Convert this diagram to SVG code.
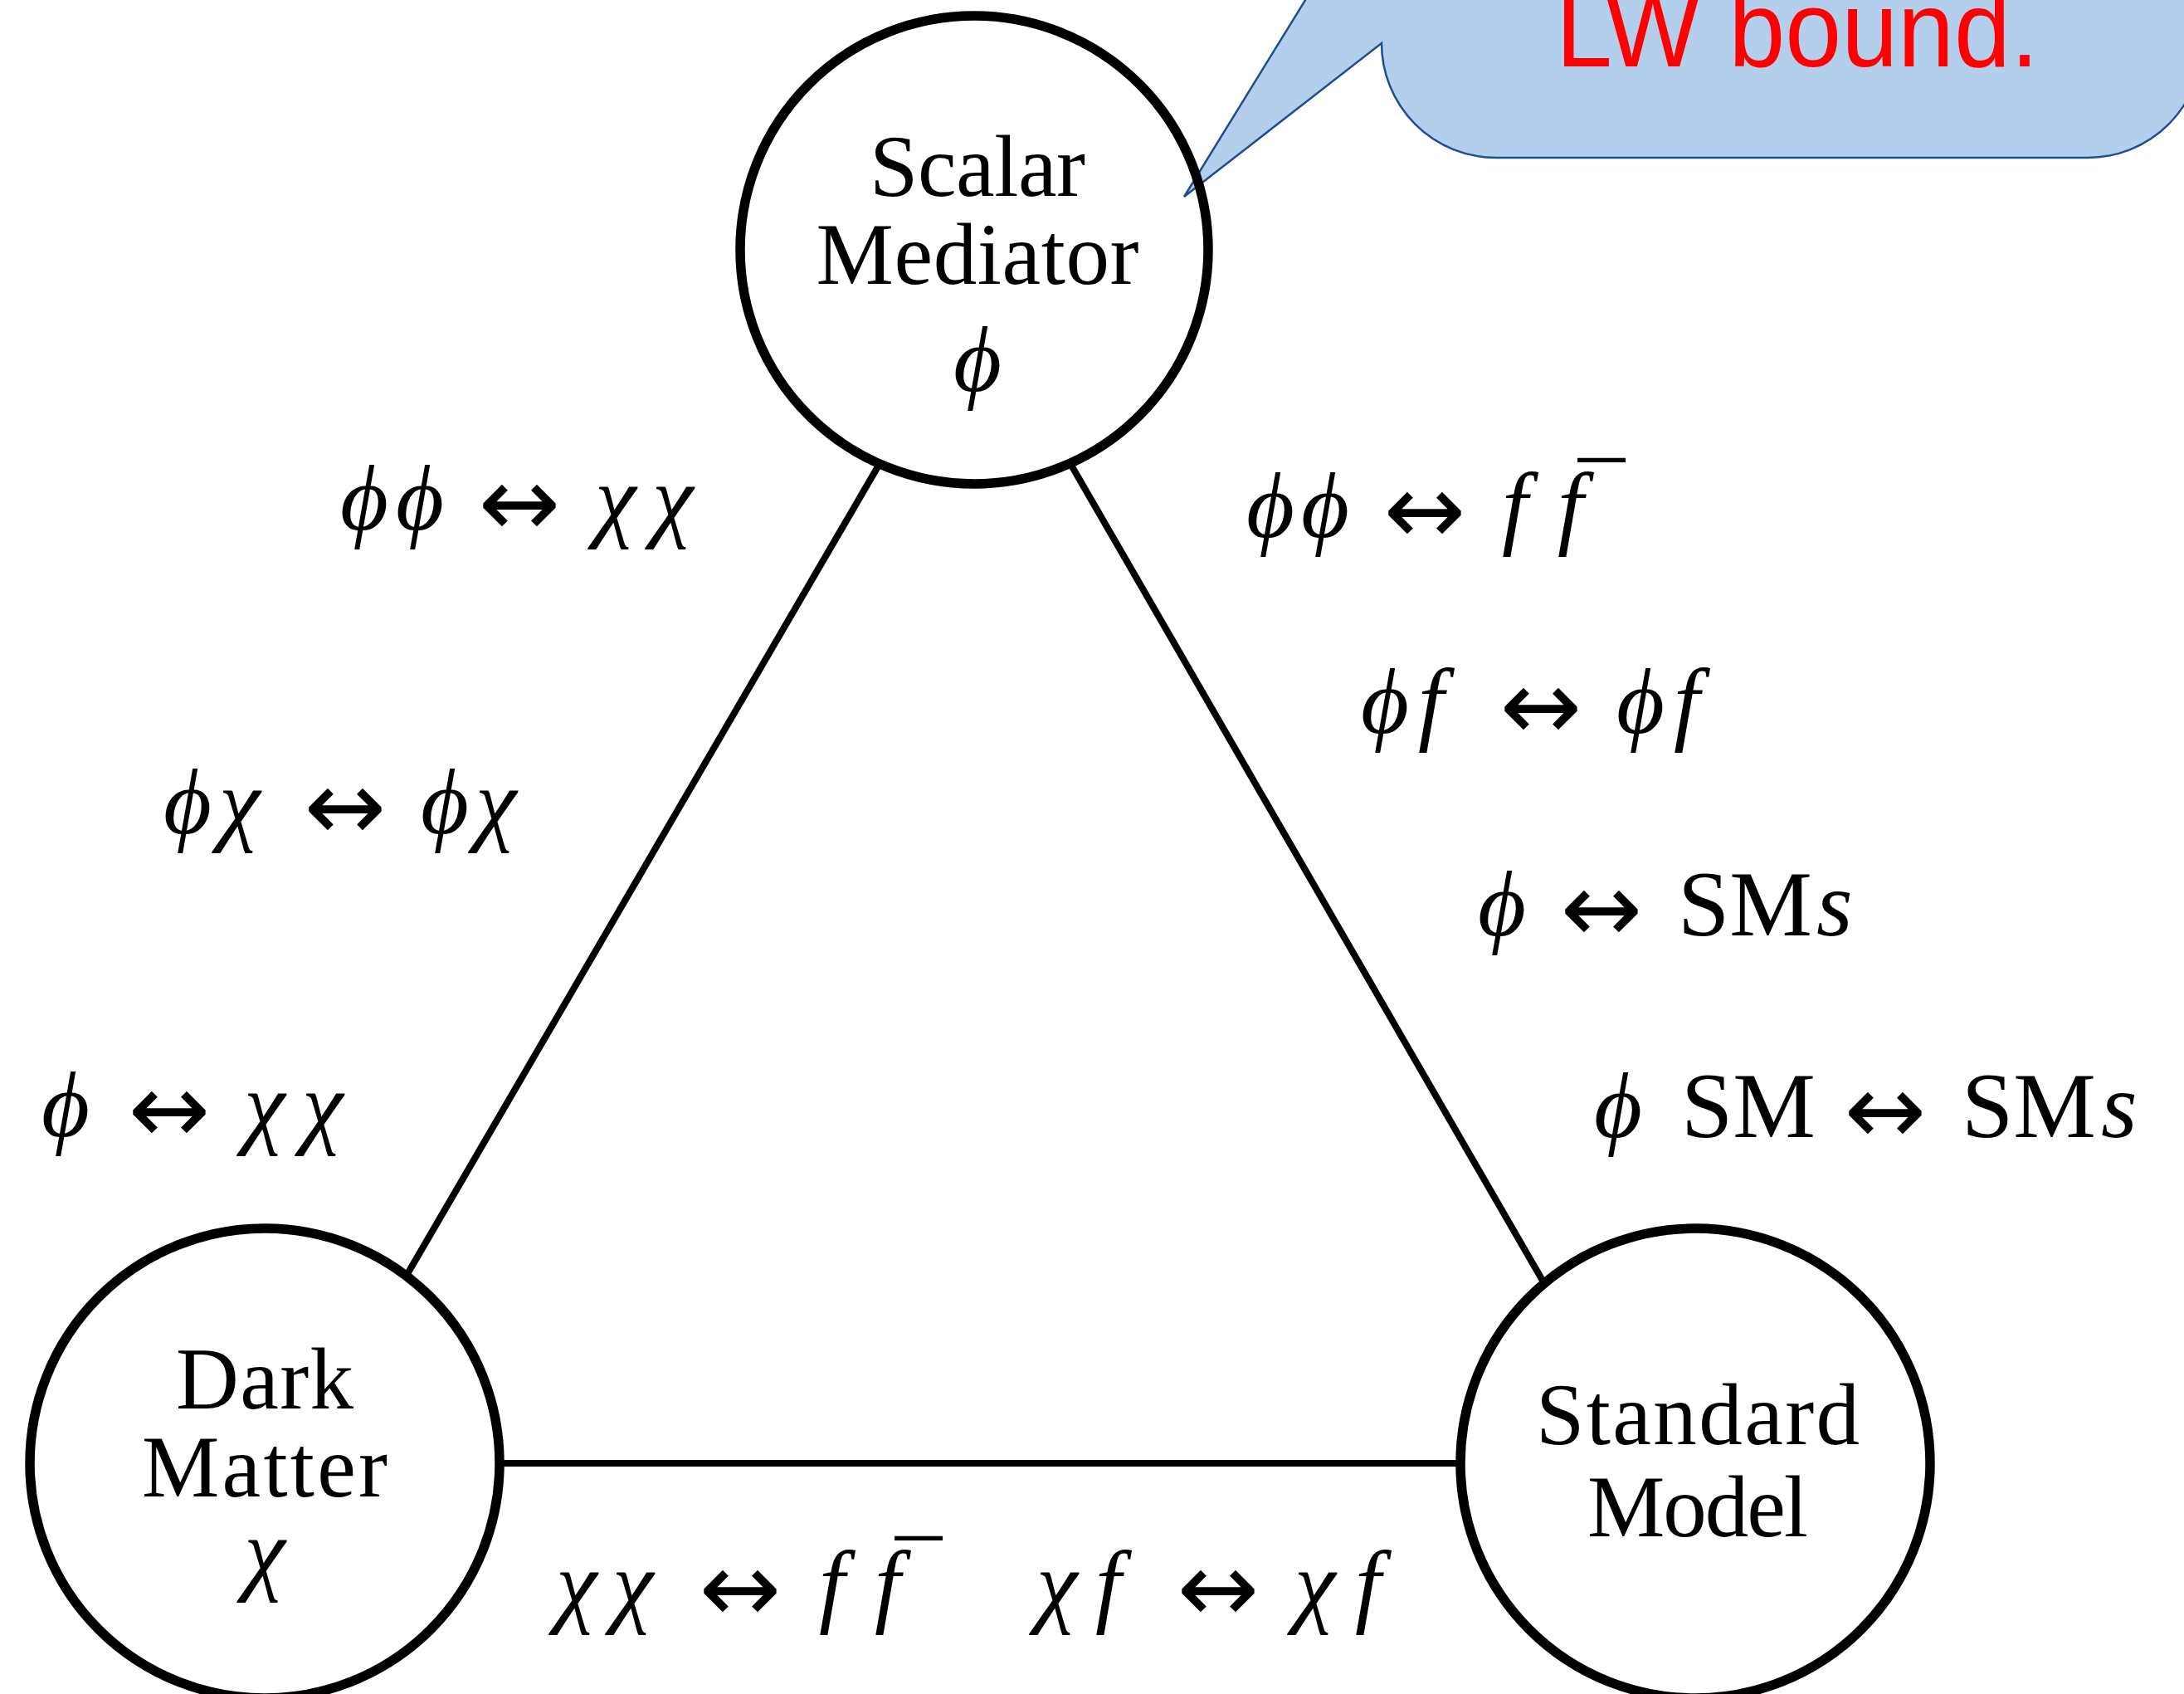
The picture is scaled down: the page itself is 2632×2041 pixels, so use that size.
<svg xmlns="http://www.w3.org/2000/svg" width="2632" height="2041" viewBox="0 0 2632 2041">
<style>
.ring{fill:none;stroke:#000;stroke-width:11.5}
.edge{stroke:#000;stroke-width:8;fill:none}
.t{font-family:"Liberation Serif","Times New Roman",serif;font-size:105px;text-anchor:middle;fill:#000}
.m{font-family:"Liberation Serif","DejaVu Serif",serif;font-size:112px;fill:#000}
.i{font-style:italic}
.arr{font-family:"DejaVu Sans",sans-serif;font-size:118px;text-anchor:middle;fill:#000}
.note{font-family:"Liberation Sans",Arial,sans-serif;font-size:130px;fill:#ff0000}
</style>
<rect x="0" y="0" width="2632" height="2041" fill="#fff"/>
<g id="connectors">
<line class="edge" x1="1061" y1="557" x2="488" y2="1540"/>
<line class="edge" x1="1289" y1="557" x2="1862" y2="1548"/>
<line class="edge" x1="602" y1="1763" x2="1759" y2="1763"/>
</g>
<g id="callout">
<path d="M1665,-149 L1427,237 L1665,52 A138,138 0 0 0 1803,190 L2516,190 A138,138 0 0 0 2654,52 L2654,-400 L1665,-400 Z" fill="#b4cfeb" stroke="#1f4e8f" stroke-width="2.5"/>
<text class="note" x="2166" y="80" text-anchor="middle" textLength="582" lengthAdjust="spacingAndGlyphs">LW bound.</text>
</g>
<g id="node-mediator">
<circle class="ring" cx="1174" cy="301" r="282"/>
<text class="t" x="1178" y="236" textLength="260">Scalar</text>
<text class="t" x="1178" y="342" textLength="389">Mediator</text>
<text class="m i" x="1178" y="471" text-anchor="middle">ϕ</text>
</g>
<g id="node-dm">
<circle class="ring" cx="319" cy="1763" r="283"/>
<text class="t" x="319" y="1697" textLength="214">Dark</text>
<text class="t" x="319" y="1803" textLength="296">Matter</text>
<text class="m i" x="319" y="1907" text-anchor="middle">χ</text>
</g>
<g id="node-sm">
<circle class="ring" cx="2043" cy="1763" r="283"/>
<text class="t" x="2046" y="1740" textLength="390">Standard</text>
<text class="t" x="2046" y="1851" textLength="266">Model</text>
</g>
<g id="labels">
<g id="lab-pp-xx">
<text class="m i" y="638" x="410 477">ϕϕ</text>
<text class="arr" x="626" y="646">↔</text>
<text class="m i" y="638" x="717 786">χχ</text>
</g>
<g id="lab-pp-ff">
<text class="m i" y="647" x="1502 1568">ϕϕ</text>
<text class="arr" x="1717" y="655">↔</text>
<text class="m" y="647"><tspan class="i" x="1810 1877">ff</tspan><tspan x="1902" y="637">¯</tspan></text>
</g>
<g id="lab-pf-pf">
<text class="m i" y="883" x="1640 1709">ϕf</text>
<text class="arr" x="1857" y="891">↔</text>
<text class="m i" y="883" x="1948 2017">ϕf</text>
</g>
<g id="lab-p-sms">
<text class="m" y="1127"><tspan class="i" x="1781">ϕ</tspan><tspan x="2022">SM</tspan><tspan class="i" x="2189">s</tspan></text>
<text class="arr" x="1930" y="1135">↔</text>
</g>
<g id="lab-psm-sms">
<text class="m" y="1370"><tspan class="i" x="1921">ϕ</tspan><tspan x="2026">SM</tspan><tspan x="2364">SM</tspan><tspan class="i" x="2532">s</tspan></text>
<text class="arr" x="2272" y="1378">↔</text>
</g>
<g id="lab-px-px">
<text class="m i" y="1004" x="197 264">ϕχ</text>
<text class="arr" x="416" y="1012">↔</text>
<text class="m i" y="1004" x="507 573">ϕχ</text>
</g>
<g id="lab-p-xx">
<text class="m i" y="1369" x="50">ϕ</text>
<text class="arr" x="204" y="1377">↔</text>
<text class="m i" y="1369" x="294 364">χχ</text>
</g>
<g id="lab-xx-ff">
<text class="m i" y="1946" x="670 738">χχ</text>
<text class="arr" x="892" y="1954">↔</text>
<text class="m" y="1946"><tspan class="i" x="987 1054">ff</tspan><tspan x="1079" y="1936">¯</tspan></text>
</g>
<g id="lab-xf-xf">
<text class="m i" y="1946" x="1249 1320">χf</text>
<text class="arr" x="1468" y="1954">↔</text>
<text class="m i" y="1946" x="1560 1633">χf</text>
</g>
</g>
</svg>
